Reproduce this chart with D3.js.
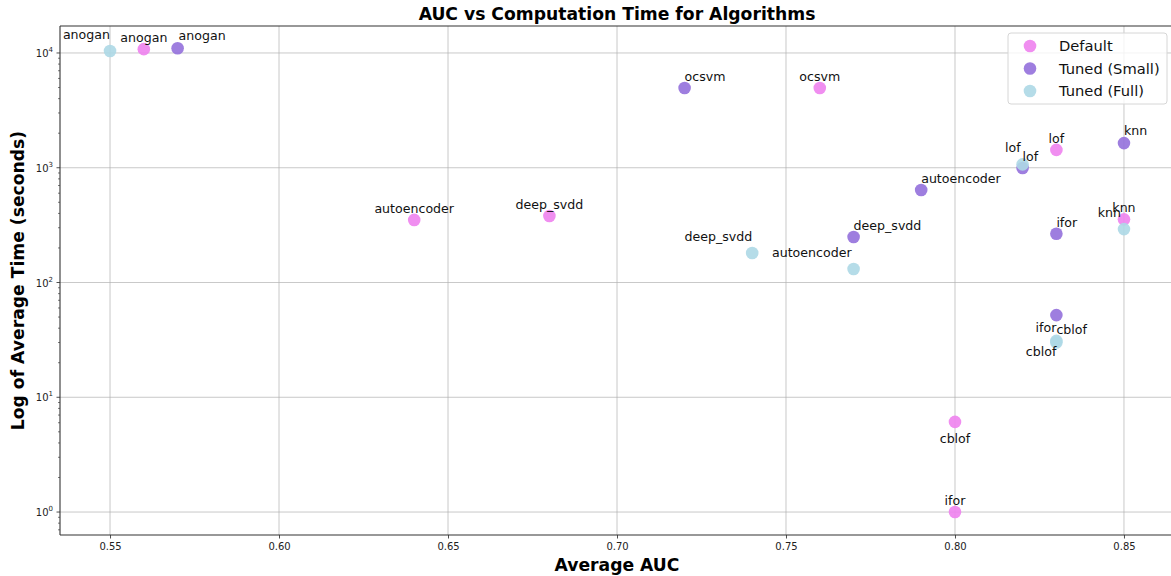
<!DOCTYPE html>
<html>
<head>
<meta charset="utf-8">
<script src="https://cdn.jsdelivr.net/npm/d3@7"></script>
<style>
  html, body { margin: 0; padding: 0; background: #fff; }
  svg { display: block; font-family: "DejaVu Sans", sans-serif; }
</style>
</head>
<body>
<svg id="chart" width="1171" height="576"></svg>
<script>
// Algorithms and their results per configuration
const algorithms = ["anogan", "autoencoder", "deep_svdd", "ocsvm", "cblof", "ifor", "lof", "knn"];

const defaultAUC   = [0.56, 0.64, 0.68, 0.76, 0.80, 0.80, 0.83, 0.85];
const defaultTime  = [10800, 351, 380, 4950, 6.1, 1.0, 1430, 355];

const smallAUC     = [0.57, 0.79, 0.77, 0.72, 0.83, 0.83, 0.82, 0.85];
const smallTime    = [11000, 640, 249, 4950, 52, 266, 995, 1640];

const fullAUC      = [0.55, 0.77, 0.74, null, 0.83, 0.83, 0.82, 0.85];
const fullTime     = [10400, 131, 181, null, 31, 30, 1070, 292];

const seriesNames  = ["Default", "Tuned (Small)", "Tuned (Full)"];
const seriesColors = ["violet", "mediumpurple", "lightblue"];

const xTicks = [0.55, 0.60, 0.65, 0.70, 0.75, 0.80, 0.85];
const yTicks = [1, 10, 100, 1000, 10000];

// label placement per series: anchor and offset relative to the point
const labelAnchor = ["middle", "start", "end"];
const labelShift = {
  "Default|cblof": [0, 21],
  "Tuned (Small)|cblof": [0, 19],
  "Tuned (Full)|ifor": [0, -11],
  "Tuned (Full)|cblof": [0, 15],
  "Tuned (Full)|anogan": [0, -12],
  "Tuned (Full)|deep_svdd": [0, -12],
  "Tuned (Full)|autoencoder": [-2, -12],
  "Tuned (Full)|lof": [-2, -12],
  "Tuned (Full)|knn": [-3, -12],
  "Tuned (Small)|anogan": [1, -8],
  "Tuned (Small)|knn": [0, -8],
  "Default|knn": [0, -7]
};

const aucArrays = [defaultAUC, smallAUC, fullAUC];
const timeArrays = [defaultTime, smallTime, fullTime];

const series = seriesNames.map((name, s) => ({
  name,
  color: seriesColors[s],
  anchor: labelAnchor[s],
  points: algorithms.map((a, i) => ({ algo: a, auc: aucArrays[s][i], time: timeArrays[s][i] }))
                    .filter(p => p.auc != null)
}));

const svg = d3.select("#chart");
const margin = { left: 60, top: 26, right: -3, bottom: 41 };
const W = 1171, H = 576;
const x0 = margin.left, x1 = W - margin.right;
const y0 = margin.top, y1 = H - margin.bottom;

const x = d3.scaleLinear().domain([0.5352, 0.8648]).range([x0, x1]);
const y = d3.scaleLog().domain([Math.pow(10, -0.2), Math.pow(10, 4.235)]).range([y1, y0]);

const g = svg.append("g");

// grid
const gridColor = "#b0b0b0";
g.append("g").selectAll("line").data(xTicks).join("line")
  .attr("x1", d => x(d)).attr("x2", d => x(d))
  .attr("y1", y0).attr("y2", y1)
  .attr("stroke", gridColor).attr("stroke-width", 0.8).attr("opacity", 0.85);
g.append("g").selectAll("line").data(yTicks).join("line")
  .attr("x1", x0).attr("x2", x1)
  .attr("y1", d => y(d)).attr("y2", d => y(d))
  .attr("stroke", gridColor).attr("stroke-width", 0.8).attr("opacity", 0.85);

// x axis
const xAxis = d3.axisBottom(x).tickValues(xTicks).tickFormat(d3.format(".2f"))
  .tickSize(3.5).tickPadding(4);
const xg = svg.append("g").attr("transform", `translate(0,${y1})`).call(xAxis);
xg.select(".domain").remove();
xg.selectAll("line").attr("stroke", "#222").attr("stroke-width", 0.8);
xg.selectAll("text").attr("font-size", 10).attr("fill", "#222")
  .attr("font-family", "DejaVu Sans, sans-serif");

// y axis: major ticks with superscript labels, minor ticks without labels
const minorTicks = [];
for (let e = -1; e <= 4; e++) {
  for (let m = 2; m <= 9; m++) {
    const v = m * Math.pow(10, e);
    if (v >= y.domain()[0] && v <= y.domain()[1]) minorTicks.push(v);
  }
}
const yg = svg.append("g");
yg.selectAll("line.minor").data(minorTicks).join("line").attr("class", "minor")
  .attr("x1", x0 - 2).attr("x2", x0)
  .attr("y1", d => y(d)).attr("y2", d => y(d))
  .attr("stroke", "#222").attr("stroke-width", 0.6);
yg.selectAll("line.major").data(yTicks).join("line").attr("class", "major")
  .attr("x1", x0 - 3.5).attr("x2", x0)
  .attr("y1", d => y(d)).attr("y2", d => y(d))
  .attr("stroke", "#222").attr("stroke-width", 0.8);
const ylab = yg.selectAll("text.tl").data(yTicks).join("text").attr("class", "tl")
  .attr("x", x0 - 7).attr("y", d => y(d) + 4)
  .attr("text-anchor", "end").attr("font-size", 10).attr("fill", "#222");
ylab.append("tspan").text("10");
ylab.append("tspan").attr("dy", -5).attr("font-size", 7).text(d => Math.round(Math.log10(d)));

// spines (left, bottom, top)
const spine = svg.append("g").attr("stroke", "#333").attr("stroke-width", 1.1).attr("fill", "none");
spine.append("line").attr("x1", x0).attr("x2", x0).attr("y1", y0).attr("y2", y1);
spine.append("line").attr("x1", x0).attr("x2", x1).attr("y1", y1).attr("y2", y1);
spine.append("line").attr("x1", x0).attr("x2", x1).attr("y1", y0).attr("y2", y0);

// points
const pts = svg.append("g");
series.forEach(s => {
  pts.append("g").selectAll("circle").data(s.points).join("circle")
    .attr("cx", d => x(d.auc)).attr("cy", d => y(d.time))
    .attr("r", 6.3).attr("fill", s.color).attr("fill-opacity", 0.9);
});

// labels
const labels = svg.append("g").attr("font-size", 12.6).attr("fill", "#111");
series.forEach(s => {
  s.points.forEach(p => {
    const key = s.name + "|" + p.algo;
    const sh = labelShift[key] || [0, -7];
    labels.append("text")
      .attr("x", x(p.auc) + sh[0])
      .attr("y", y(p.time) + sh[1])
      .attr("text-anchor", s.anchor)
      .attr("fill", "#111")
      .text(p.algo);
  });
});

// title and axis labels
svg.append("text").attr("x", (x0 + x1) / 2).attr("y", 20)
  .attr("text-anchor", "middle").attr("font-size", 17.2).attr("font-weight", "bold")
  .text("AUC vs Computation Time for Algorithms");
svg.append("text").attr("x", (x0 + x1) / 2).attr("y", 571)
  .attr("text-anchor", "middle").attr("font-size", 17.2).attr("font-weight", "bold")
  .text("Average AUC");
svg.append("text")
  .attr("transform", `translate(24,${(y0 + y1) / 2}) rotate(-90)`)
  .attr("text-anchor", "middle").attr("font-size", 17.2).attr("font-weight", "bold")
  .text("Log of Average Time (seconds)");

// legend
const lg = svg.append("g").attr("transform", "translate(1008,33)");
lg.append("rect").attr("width", 159).attr("height", 71).attr("rx", 3)
  .attr("fill", "#fff").attr("fill-opacity", 0.8)
  .attr("stroke", "#d6d6d6").attr("stroke-width", 1);
series.forEach((s, i) => {
  const row = lg.append("g").attr("transform", `translate(0,${13 + i * 22.5})`);
  row.append("circle").attr("cx", 22).attr("cy", 0).attr("r", 6.3)
    .attr("fill", s.color).attr("fill-opacity", 0.9);
  row.append("text").attr("x", 51).attr("y", 5).attr("font-size", 14.7).attr("fill", "#111")
    .text(s.name);
});
</script>
</body>
</html>
